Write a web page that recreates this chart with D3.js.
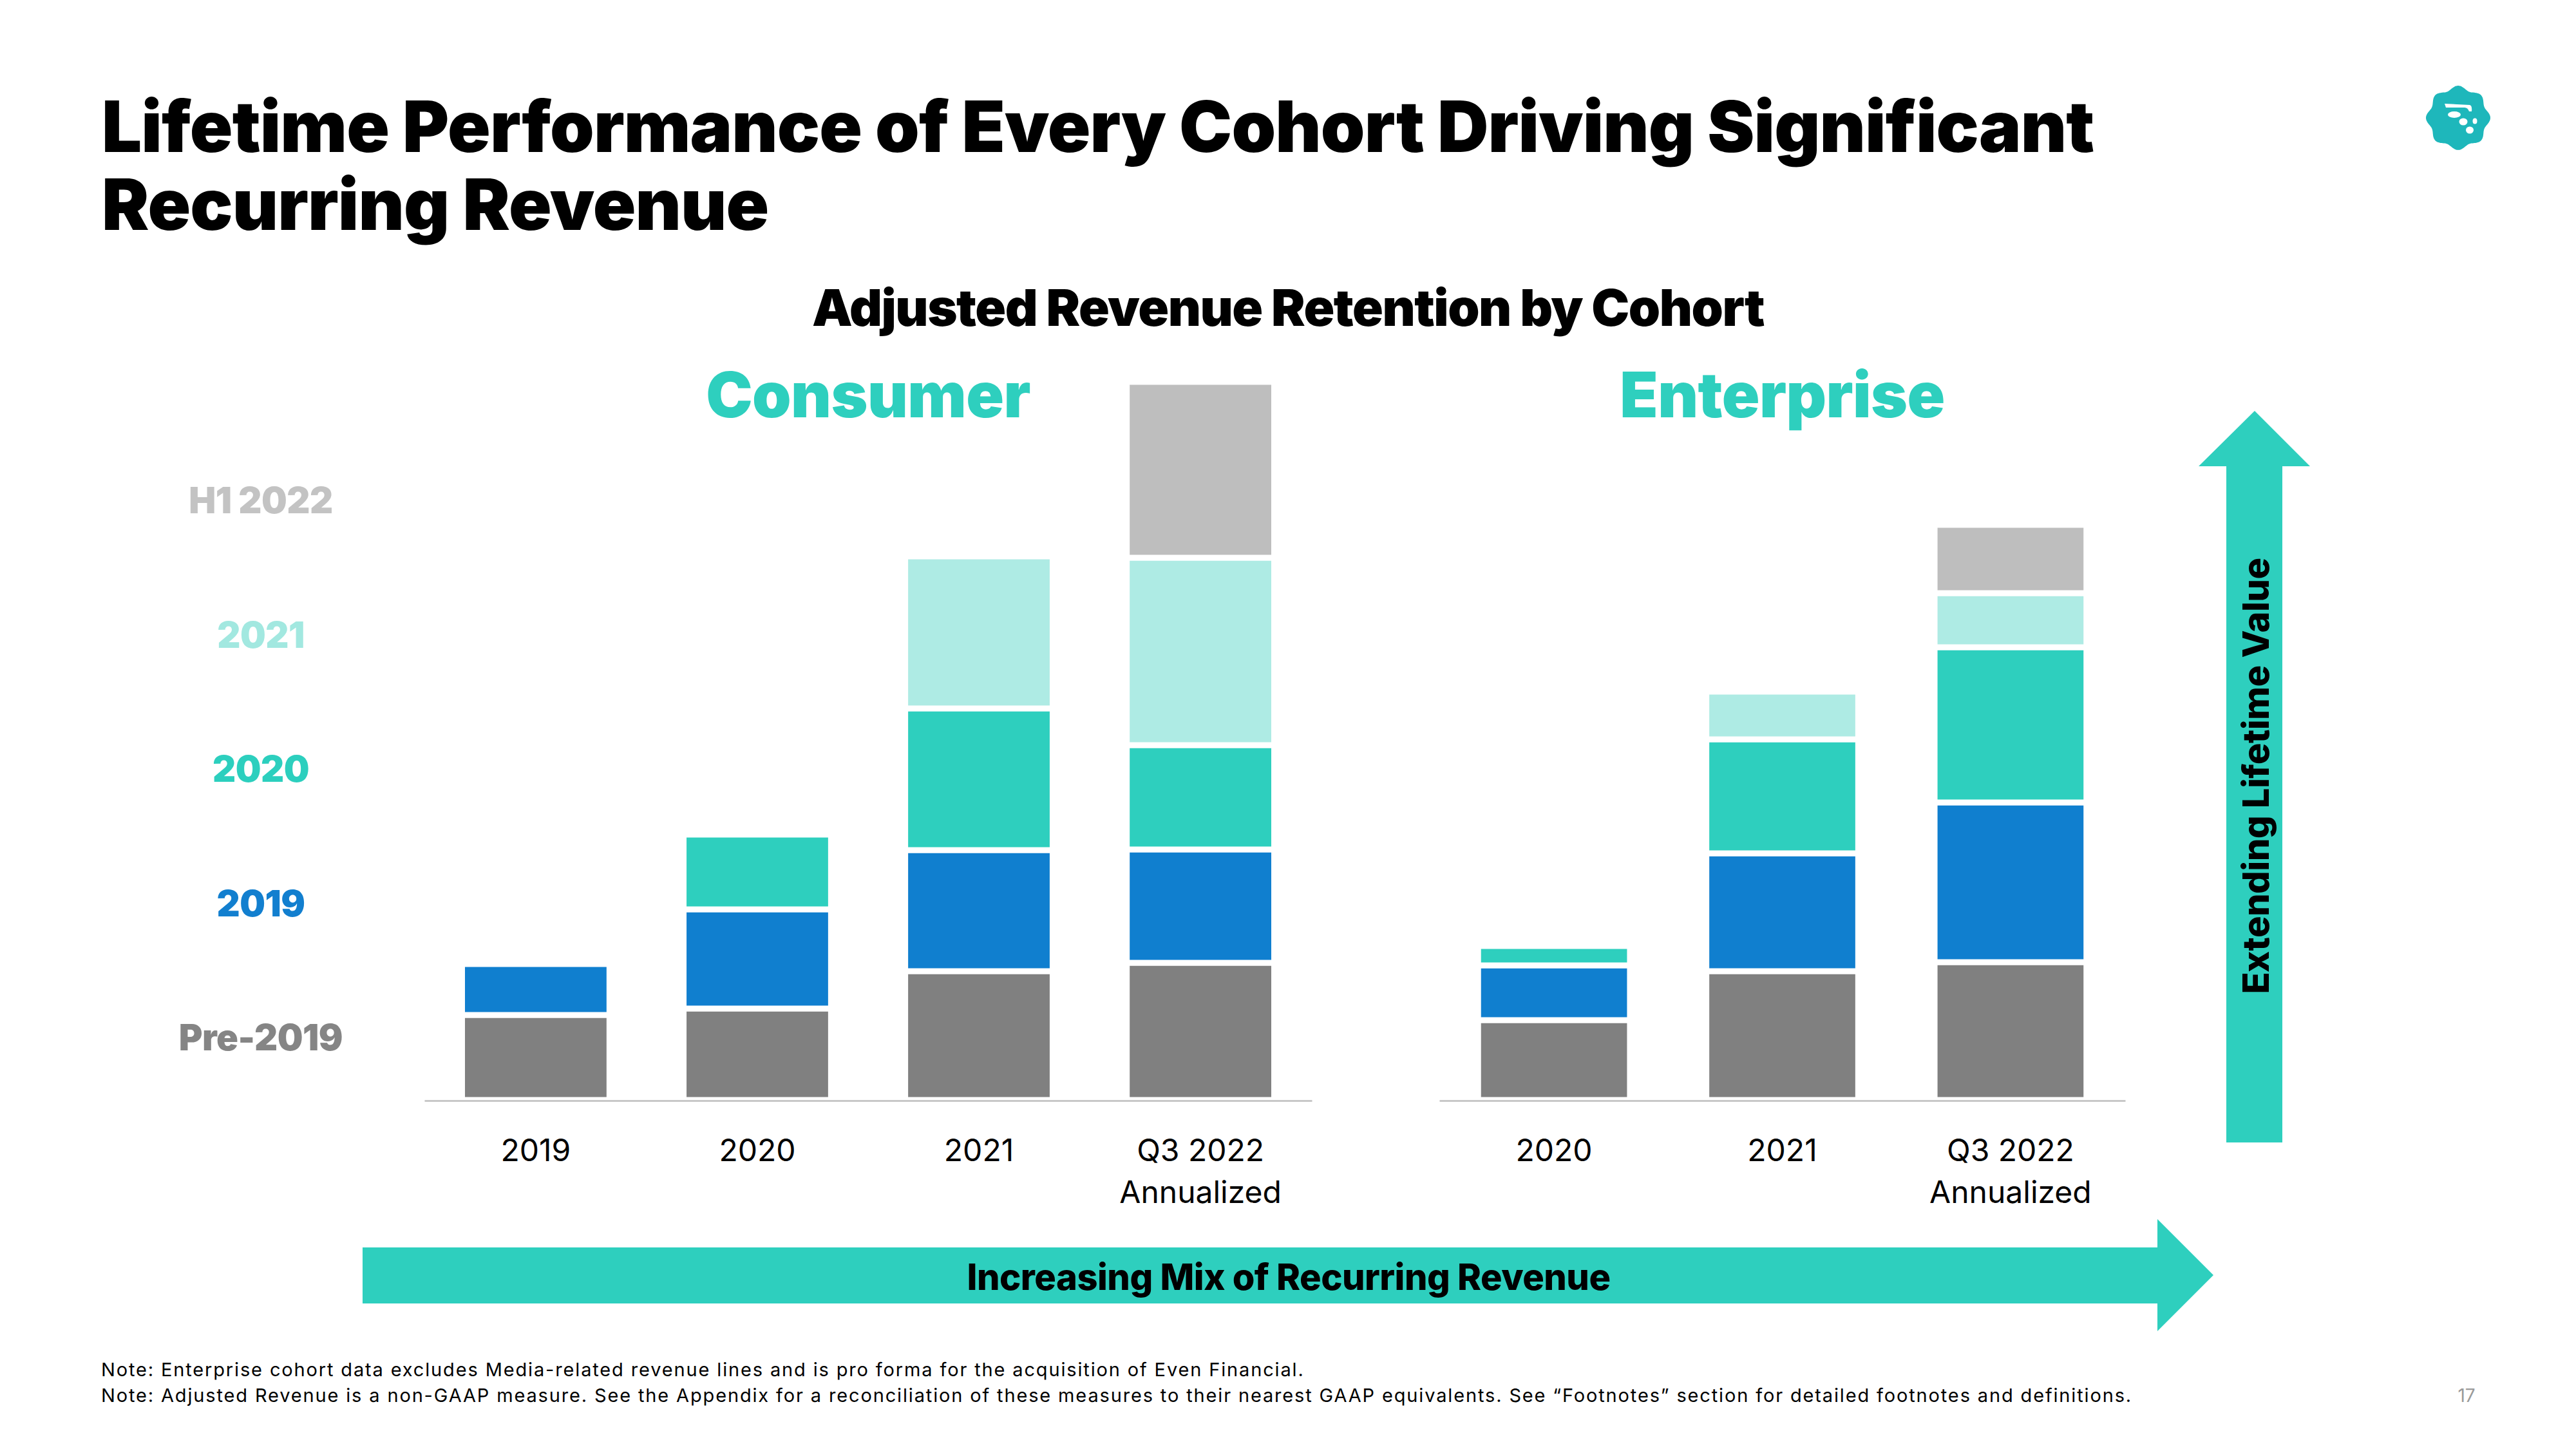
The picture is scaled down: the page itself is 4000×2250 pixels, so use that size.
<!DOCTYPE html>
<html>
<head>
<meta charset="utf-8">
<script src="https://cdn.jsdelivr.net/npm/d3@7"></script>
<style>
  html, body { margin: 0; padding: 0; background: #ffffff; }
  svg { display: block; }
  text { font-family: Inter, "Noto Sans", sans-serif; }
</style>
</head>
<body>
<svg id="chart" width="4000" height="2250"></svg>
<script>
// ---------- DATA ----------
const cohorts = ["Pre-2019", "2019", "2020", "2021", "H1 2022"];
const legendLabels = ["H1 2022", "2021", "2020", "2019", "Pre-2019"];

const consumerCategories = ["2019", "2020", "2021", "Q3 2022|Annualized"];
const consumerPre2019 = [13.2, 14.2, 20.0, 21.3];
const consumer2019    = [7.9, 15.4, 18.8, 17.6];
const consumer2020    = [0, 11.6, 22.0, 16.2];
const consumer2021    = [0, 0, 23.6, 29.1];
const consumerH12022  = [0, 0, 0, 27.3];

const enterpriseCategories = ["2020", "2021", "Q3 2022|Annualized"];
const enterprisePre2019 = [12.4, 20.0, 21.4];
const enterprise2019    = [8.5, 18.3, 24.8];
const enterprise2020    = [3.0, 17.7, 24.1];
const enterprise2021    = [0, 7.4, 8.4];
const enterpriseH12022  = [0, 0, 10.6];

const titleLines = ["Lifetime Performance of Every Cohort Driving Significant", "Recurring Revenue"];
const subtitle = "Adjusted Revenue Retention by Cohort";
const footnotes = [
  "Note: Enterprise cohort data excludes Media-related revenue lines and is pro forma for the acquisition of Even Financial.",
  "Note: Adjusted Revenue is a non-GAAP measure. See the Appendix for a reconciliation of these measures to their nearest GAAP equivalents. See \u201cFootnotes\u201d section for detailed footnotes and definitions."
];

// ---------- STYLE ----------
const colors = {
  "Pre-2019": "#808080",
  "2019": "#107fcf",
  "2020": "#2ecfbe",
  "2021": "#aeebe4",
  "H1 2022": "#bebebe"
};
const legendColors = {
  "Pre-2019": "#858585",
  "2019": "#127fcf",
  "2020": "#2ccfbe",
  "2021": "#a2e8e0",
  "H1 2022": "#c3c3c3"
};
const teal = "#2ecfbe";

const svg = d3.select("#chart");

// Title
svg.append("g").selectAll("text").data(titleLines).join("text")
  .attr("x", 158).attr("y", (d, i) => 236 + i * 121)
  .attr("font-size", 110).attr("font-weight", 900)
  .attr("letter-spacing", -0.9)
  .attr("fill", "#000").text(d => d);

// Subtitle
svg.append("text").attr("x", 2000).attr("y", 506)
  .attr("text-anchor", "middle").attr("font-size", 79).attr("font-weight", 900)
  .attr("letter-spacing", -1.5)
  .attr("fill", "#000").text(subtitle);

// Logo
const logo = svg.append("g").attr("transform", "translate(3817,183)");
const lobes = 8;
const badgePts = d3.range(0, 361, 2).map(a => {
  const t = a * Math.PI / 180;
  const r = 47 + 3 * Math.cos(lobes * t);
  return [t, r];
});
logo.append("path")
  .attr("d", d3.lineRadial().angle(d => d[0]).radius(d => d[1]).curve(d3.curveCardinalClosed)(badgePts))
  .attr("fill", "#1eb7bb");
logo.append("path")
  .attr("d", "M-21,-22 L18,-20 Q22,-19 21,-10 L17,-10 Q15,-16 10,-16 L-19,-16 Z")
  .attr("fill", "#fff");
logo.append("ellipse").attr("cx", -6).attr("cy", -5).attr("rx", 10).attr("ry", 5).attr("fill", "#fff");
logo.append("ellipse").attr("cx", 8).attr("cy", 6).attr("rx", 6.5).attr("ry", 5.5).attr("fill", "#fff");
logo.append("ellipse").attr("cx", 26).attr("cy", 5).attr("rx", 3.5).attr("ry", 4.5).attr("fill", "#fff");
logo.append("ellipse").attr("cx", 18).attr("cy", 19).attr("rx", 6).attr("ry", 5.5).attr("fill", "#fff");

// Legend labels
const legendBaselines = d3.scalePoint().domain(legendLabels).range([797, 1631]);
svg.append("g").selectAll("text").data(legendLabels).join("text")
  .attr("x", 405).attr("y", d => legendBaselines(d))
  .attr("text-anchor", "middle").attr("font-size", 56).attr("font-weight", 900)
  .attr("letter-spacing", -0.5)
  .attr("fill", d => legendColors[d]).text(d => d);

// Y scale shared
const y = d3.scaleLinear().domain([0, 120]).range([1708, 508]);

function panel(title, categories, series, x0, x1) {
  const rows = categories.map((c, i) => {
    const row = { cat: c };
    cohorts.forEach((k, j) => row[k] = series[j][i]);
    return row;
  });
  const x = d3.scaleBand().domain(categories).range([x0, x1])
    .paddingInner(0.335).paddingOuter(0.17);
  const stack = d3.stack().keys(cohorts)(rows);
  const g = svg.append("g");

  g.selectAll("g.layer").data(stack).join("g").attr("class", "layer")
    .attr("fill", d => colors[d.key])
    .selectAll("rect").data(d => d.filter(p => p[1] - p[0] > 0)).join("rect")
      .attr("x", d => x(d.data.cat))
      .attr("width", x.bandwidth())
      .attr("y", d => y(d[1]))
      .attr("height", d => y(d[0]) - y(d[1]))
      .attr("stroke", "#ffffff").attr("stroke-width", 9);

  // axis baseline
  const axis = g.append("g").attr("transform", `translate(0,${y(0) + 1})`)
    .call(d3.axisBottom(x).tickSize(0).tickFormat(""));
  axis.select(".domain").attr("stroke", "#c8c8c8").attr("stroke-width", 3);

  // category labels
  const lab = g.append("g").selectAll("text").data(categories).join("text")
    .attr("x", d => x(d) + x.bandwidth() / 2)
    .attr("y", 1803)
    .attr("text-anchor", "middle").attr("font-size", 48).attr("font-weight", 400)
    .attr("fill", "#000");
  lab.selectAll("tspan").data(d => d.split("|")).join("tspan")
    .attr("x", function() { return d3.select(this.parentNode).attr("x"); })
    .attr("dy", (d, i) => i === 0 ? 0 : 65)
    .text(d => d);

  // panel header
  g.append("text").attr("x", (x0 + x1) / 2).attr("y", 648)
    .attr("text-anchor", "middle").attr("font-size", 97).attr("font-weight", 900)
    .attr("letter-spacing", -0.6)
    .attr("fill", teal).text(title);
}

panel("Consumer", consumerCategories,
  [consumerPre2019, consumer2019, consumer2020, consumer2021, consumerH12022], 659, 2037);
panel("Enterprise", enterpriseCategories,
  [enterprisePre2019, enterprise2019, enterprise2020, enterprise2021, enterpriseH12022], 2235, 3300);

// Horizontal arrow
const hArrow = d3.path();
hArrow.moveTo(563, 1937); hArrow.lineTo(3350, 1937); hArrow.lineTo(3350, 1893);
hArrow.lineTo(3437, 1980); hArrow.lineTo(3350, 2067); hArrow.lineTo(3350, 2024);
hArrow.lineTo(563, 2024); hArrow.closePath();
svg.append("path").attr("d", hArrow.toString()).attr("fill", teal);
svg.append("text").attr("x", 2001).attr("y", 2003)
  .attr("text-anchor", "middle").attr("font-size", 56).attr("font-weight", 800)
  .attr("letter-spacing", -0.5)
  .attr("fill", "#000").text("Increasing Mix of Recurring Revenue");

// Vertical arrow
const vArrow = d3.path();
vArrow.moveTo(3457, 1774); vArrow.lineTo(3457, 724); vArrow.lineTo(3414, 724);
vArrow.lineTo(3501, 638); vArrow.lineTo(3587, 724); vArrow.lineTo(3544, 724);
vArrow.lineTo(3544, 1774); vArrow.closePath();
svg.append("path").attr("d", vArrow.toString()).attr("fill", teal);
svg.append("text").attr("transform", "translate(3523,1205) rotate(-90)")
  .attr("text-anchor", "middle").attr("font-size", 56).attr("font-weight", 800)
  .attr("letter-spacing", -0.5)
  .attr("fill", "#000").text("Extending Lifetime Value");

// Footnotes
svg.append("g").selectAll("text").data(footnotes).join("text")
  .attr("x", 157).attr("y", (d, i) => 2137 + i * 40)
  .attr("font-size", 29).attr("font-weight", 400)
  .attr("letter-spacing", 1.85)
  .attr("fill", "#000").text(d => d);

// Page number
svg.append("text").attr("x", 3830).attr("y", 2177)
  .attr("text-anchor", "middle").attr("font-size", 28)
  .attr("fill", "#9a9a9a").text("17");
</script>
</body>
</html>
